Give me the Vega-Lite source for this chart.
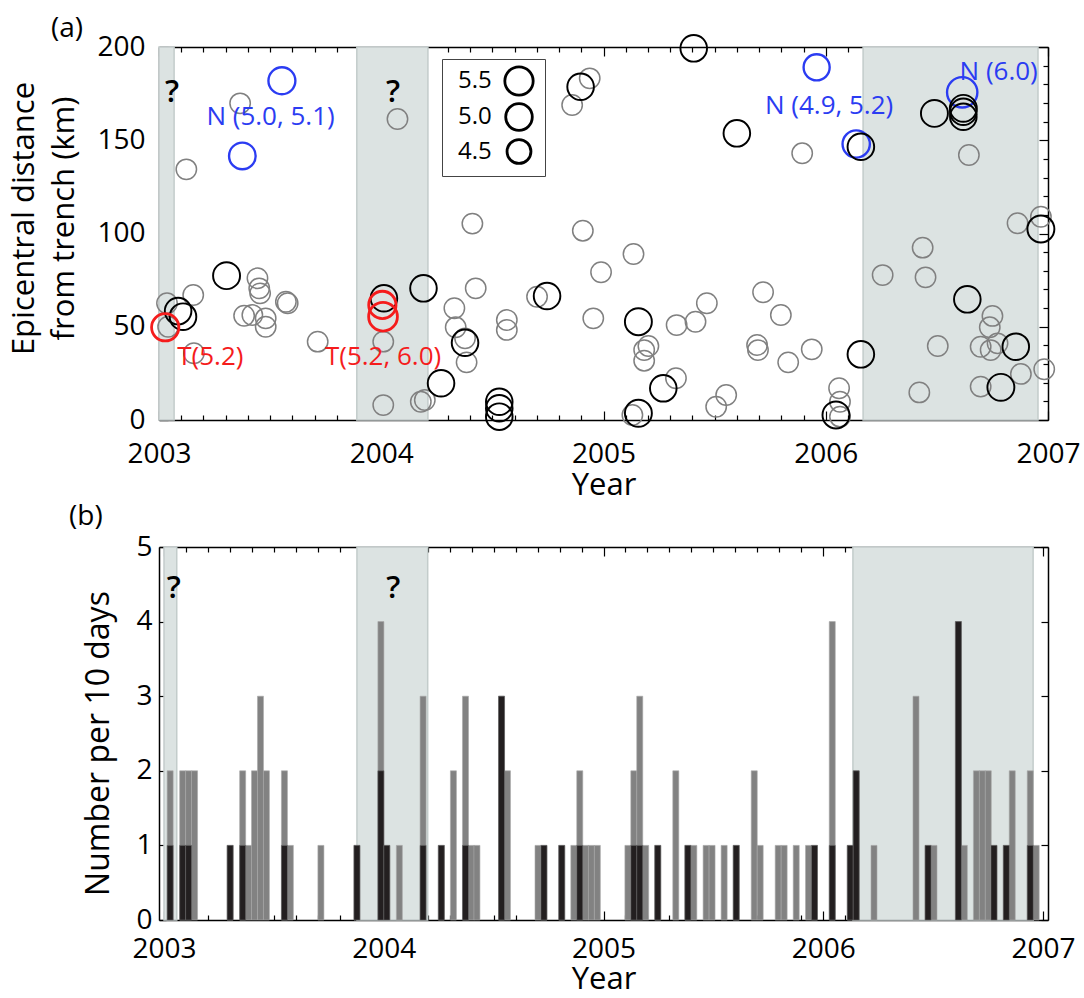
{
  "$schema": "https://vega.github.io/schema/vega-lite/v6.json",
  "background": "white",
  "padding": {"left": 8, "top": 15, "right": 5, "bottom": 5},
  "config": {
    "font": "Open Sans",
    "view": {"stroke": null},
    "axis": {"grid": false, "domainColor": "#000", "domainWidth": 1.5, "tickColor": "#000", "tickWidth": 1.2, "labelFontSize": 28, "labelColor": "#000", "titleFontSize": 31, "titleFontWeight": "normal", "titleColor": "#000", "labelFont": "Open Sans", "titleFont": "Open Sans", "labelOverlap": false, "labelBound": false, "labelFlush": false},
    "title": {"fontSize": 28, "fontWeight": "normal", "anchor": "start", "frame": "group", "font": "Open Sans", "color": "#000"}
  },
  "datasets": {
    "bars": [
      {"year": 2003.028, "total": 2, "big": 1},
      {"year": 2003.085, "total": 2, "big": 1},
      {"year": 2003.112, "total": 2, "big": 1},
      {"year": 2003.139, "total": 2, "big": 0},
      {"year": 2003.301, "total": 1, "big": 1},
      {"year": 2003.358, "total": 2, "big": 1},
      {"year": 2003.385, "total": 1, "big": 0},
      {"year": 2003.412, "total": 2, "big": 0},
      {"year": 2003.439, "total": 3, "big": 0},
      {"year": 2003.466, "total": 2, "big": 0},
      {"year": 2003.548, "total": 2, "big": 1},
      {"year": 2003.575, "total": 1, "big": 0},
      {"year": 2003.714, "total": 1, "big": 0},
      {"year": 2003.878, "total": 1, "big": 1},
      {"year": 2003.987, "total": 4, "big": 2},
      {"year": 2004.014, "total": 1, "big": 1},
      {"year": 2004.071, "total": 1, "big": 0},
      {"year": 2004.179, "total": 3, "big": 1},
      {"year": 2004.262, "total": 1, "big": 1},
      {"year": 2004.317, "total": 2, "big": 0},
      {"year": 2004.372, "total": 3, "big": 1},
      {"year": 2004.398, "total": 1, "big": 0},
      {"year": 2004.424, "total": 1, "big": 0},
      {"year": 2004.536, "total": 3, "big": 3},
      {"year": 2004.563, "total": 2, "big": 0},
      {"year": 2004.702, "total": 1, "big": 0},
      {"year": 2004.729, "total": 1, "big": 1},
      {"year": 2004.810, "total": 1, "big": 1},
      {"year": 2004.865, "total": 1, "big": 0},
      {"year": 2004.892, "total": 2, "big": 1},
      {"year": 2004.919, "total": 1, "big": 0},
      {"year": 2004.945, "total": 1, "big": 0},
      {"year": 2004.972, "total": 1, "big": 0},
      {"year": 2005.111, "total": 1, "big": 0},
      {"year": 2005.138, "total": 2, "big": 1},
      {"year": 2005.165, "total": 3, "big": 1},
      {"year": 2005.192, "total": 1, "big": 0},
      {"year": 2005.247, "total": 1, "big": 1},
      {"year": 2005.329, "total": 2, "big": 0},
      {"year": 2005.384, "total": 1, "big": 1},
      {"year": 2005.411, "total": 1, "big": 0},
      {"year": 2005.467, "total": 1, "big": 0},
      {"year": 2005.494, "total": 1, "big": 0},
      {"year": 2005.549, "total": 1, "big": 0},
      {"year": 2005.604, "total": 1, "big": 1},
      {"year": 2005.686, "total": 2, "big": 0},
      {"year": 2005.713, "total": 1, "big": 0},
      {"year": 2005.795, "total": 1, "big": 0},
      {"year": 2005.822, "total": 1, "big": 0},
      {"year": 2005.877, "total": 1, "big": 0},
      {"year": 2005.933, "total": 1, "big": 0},
      {"year": 2005.960, "total": 1, "big": 1},
      {"year": 2006.041, "total": 4, "big": 1},
      {"year": 2006.123, "total": 1, "big": 1},
      {"year": 2006.150, "total": 2, "big": 2},
      {"year": 2006.231, "total": 1, "big": 0},
      {"year": 2006.422, "total": 3, "big": 0},
      {"year": 2006.477, "total": 1, "big": 1},
      {"year": 2006.504, "total": 1, "big": 0},
      {"year": 2006.615, "total": 4, "big": 4},
      {"year": 2006.642, "total": 1, "big": 0},
      {"year": 2006.697, "total": 2, "big": 0},
      {"year": 2006.724, "total": 2, "big": 0},
      {"year": 2006.751, "total": 2, "big": 0},
      {"year": 2006.777, "total": 1, "big": 1},
      {"year": 2006.833, "total": 1, "big": 1},
      {"year": 2006.860, "total": 2, "big": 0},
      {"year": 2006.942, "total": 2, "big": 1},
      {"year": 2006.969, "total": 1, "big": 0}
    ],
    "events": [
      {"year": 2003.365, "km": 169.8, "type": "g", "mag": 4.2},
      {"year": 2003.123, "km": 134.4, "type": "g", "mag": 4.2},
      {"year": 2004.073, "km": 161.4, "type": "g", "mag": 4.2},
      {"year": 2003.443, "km": 76.0, "type": "g", "mag": 4.2},
      {"year": 2003.451, "km": 70.6, "type": "g", "mag": 4.2},
      {"year": 2003.455, "km": 67.9, "type": "g", "mag": 4.2},
      {"year": 2003.571, "km": 63.4, "type": "g", "mag": 4.2},
      {"year": 2003.579, "km": 62.6, "type": "g", "mag": 4.2},
      {"year": 2003.383, "km": 55.9, "type": "g", "mag": 4.2},
      {"year": 2003.420, "km": 56.3, "type": "g", "mag": 4.2},
      {"year": 2003.480, "km": 54.5, "type": "g", "mag": 4.2},
      {"year": 2003.480, "km": 50.0, "type": "g", "mag": 4.2},
      {"year": 2003.036, "km": 62.6, "type": "g", "mag": 4.2},
      {"year": 2003.041, "km": 50.0, "type": "g", "mag": 4.2},
      {"year": 2003.154, "km": 67.0, "type": "g", "mag": 4.2},
      {"year": 2003.157, "km": 35.8, "type": "g", "mag": 4.2},
      {"year": 2003.714, "km": 42.0, "type": "g", "mag": 4.2},
      {"year": 2004.009, "km": 42.0, "type": "g", "mag": 4.2},
      {"year": 2004.009, "km": 8.0, "type": "g", "mag": 4.2},
      {"year": 2004.178, "km": 9.8, "type": "g", "mag": 4.2},
      {"year": 2004.196, "km": 10.7, "type": "g", "mag": 4.2},
      {"year": 2004.329, "km": 59.9, "type": "g", "mag": 4.2},
      {"year": 2004.335, "km": 49.7, "type": "g", "mag": 4.2},
      {"year": 2004.377, "km": 43.8, "type": "g", "mag": 4.2},
      {"year": 2004.384, "km": 30.9, "type": "g", "mag": 4.2},
      {"year": 2004.410, "km": 105.3, "type": "g", "mag": 4.2},
      {"year": 2004.425, "km": 70.6, "type": "g", "mag": 4.2},
      {"year": 2004.938, "km": 183.2, "type": "g", "mag": 4.2},
      {"year": 2004.859, "km": 168.9, "type": "g", "mag": 4.2},
      {"year": 2005.894, "km": 143.0, "type": "g", "mag": 4.2},
      {"year": 2004.907, "km": 101.5, "type": "g", "mag": 4.2},
      {"year": 2005.135, "km": 89.0, "type": "g", "mag": 4.2},
      {"year": 2004.989, "km": 79.2, "type": "g", "mag": 4.2},
      {"year": 2004.701, "km": 66.1, "type": "g", "mag": 4.2},
      {"year": 2004.565, "km": 53.6, "type": "g", "mag": 4.2},
      {"year": 2004.565, "km": 48.3, "type": "g", "mag": 4.2},
      {"year": 2004.954, "km": 54.5, "type": "g", "mag": 4.2},
      {"year": 2005.465, "km": 62.6, "type": "g", "mag": 4.2},
      {"year": 2005.329, "km": 50.9, "type": "g", "mag": 4.2},
      {"year": 2005.414, "km": 52.7, "type": "g", "mag": 4.2},
      {"year": 2005.718, "km": 68.5, "type": "g", "mag": 4.2},
      {"year": 2005.798, "km": 56.3, "type": "g", "mag": 4.2},
      {"year": 2005.691, "km": 40.2, "type": "g", "mag": 4.2},
      {"year": 2005.695, "km": 37.5, "type": "g", "mag": 4.2},
      {"year": 2005.831, "km": 30.9, "type": "g", "mag": 4.2},
      {"year": 2005.937, "km": 37.9, "type": "g", "mag": 4.2},
      {"year": 2005.202, "km": 39.7, "type": "g", "mag": 4.2},
      {"year": 2005.183, "km": 37.5, "type": "g", "mag": 4.2},
      {"year": 2005.183, "km": 31.8, "type": "g", "mag": 4.2},
      {"year": 2005.326, "km": 22.4, "type": "g", "mag": 4.2},
      {"year": 2005.552, "km": 13.4, "type": "g", "mag": 4.2},
      {"year": 2005.507, "km": 7.1, "type": "g", "mag": 4.2},
      {"year": 2005.130, "km": 2.7, "type": "g", "mag": 4.2},
      {"year": 2006.060, "km": 17.0, "type": "g", "mag": 4.2},
      {"year": 2006.064, "km": 9.8, "type": "g", "mag": 4.2},
      {"year": 2006.064, "km": 1.8, "type": "g", "mag": 4.2},
      {"year": 2006.644, "km": 142.1, "type": "g", "mag": 4.2},
      {"year": 2006.863, "km": 105.5, "type": "g", "mag": 4.2},
      {"year": 2006.968, "km": 109.0, "type": "g", "mag": 4.2},
      {"year": 2006.436, "km": 92.4, "type": "g", "mag": 4.2},
      {"year": 2006.256, "km": 77.7, "type": "g", "mag": 4.2},
      {"year": 2006.449, "km": 76.5, "type": "g", "mag": 4.2},
      {"year": 2006.750, "km": 55.8, "type": "g", "mag": 4.2},
      {"year": 2006.738, "km": 49.7, "type": "g", "mag": 4.2},
      {"year": 2006.504, "km": 39.7, "type": "g", "mag": 4.2},
      {"year": 2006.697, "km": 39.3, "type": "g", "mag": 4.2},
      {"year": 2006.742, "km": 37.5, "type": "g", "mag": 4.2},
      {"year": 2006.773, "km": 41.1, "type": "g", "mag": 4.2},
      {"year": 2006.983, "km": 27.2, "type": "g", "mag": 4.2},
      {"year": 2006.878, "km": 24.7, "type": "g", "mag": 4.2},
      {"year": 2006.421, "km": 14.8, "type": "g", "mag": 4.2},
      {"year": 2006.697, "km": 17.9, "type": "g", "mag": 4.2},
      {"year": 2003.553, "km": 181.9, "type": "b", "mag": 5.1},
      {"year": 2003.375, "km": 141.6, "type": "b", "mag": 5.0},
      {"year": 2005.959, "km": 189.1, "type": "b", "mag": 4.9},
      {"year": 2006.137, "km": 148.0, "type": "b", "mag": 5.2},
      {"year": 2006.614, "km": 175.7, "type": "b", "mag": 6.0},
      {"year": 2003.304, "km": 77.4, "type": "k", "mag": 5.1},
      {"year": 2003.086, "km": 58.4, "type": "k", "mag": 5.0},
      {"year": 2003.108, "km": 55.4, "type": "k", "mag": 5.0},
      {"year": 2004.012, "km": 65.3, "type": "k", "mag": 5.0},
      {"year": 2004.190, "km": 70.6, "type": "k", "mag": 5.0},
      {"year": 2004.269, "km": 19.7, "type": "k", "mag": 5.0},
      {"year": 2004.377, "km": 41.4, "type": "k", "mag": 5.0},
      {"year": 2005.406, "km": 199.3, "type": "k", "mag": 5.0},
      {"year": 2004.897, "km": 178.7, "type": "k", "mag": 5.0},
      {"year": 2005.600, "km": 153.7, "type": "k", "mag": 5.0},
      {"year": 2006.158, "km": 146.5, "type": "k", "mag": 5.0},
      {"year": 2004.746, "km": 66.5, "type": "k", "mag": 5.0},
      {"year": 2005.157, "km": 52.7, "type": "k", "mag": 5.1},
      {"year": 2004.531, "km": 9.8, "type": "k", "mag": 5.0},
      {"year": 2004.531, "km": 6.3, "type": "k", "mag": 5.0},
      {"year": 2004.531, "km": 1.8, "type": "k", "mag": 5.0},
      {"year": 2005.269, "km": 17.0, "type": "k", "mag": 5.0},
      {"year": 2005.157, "km": 3.6, "type": "k", "mag": 5.1},
      {"year": 2006.046, "km": 2.7, "type": "k", "mag": 5.1},
      {"year": 2006.158, "km": 35.2, "type": "k", "mag": 5.0},
      {"year": 2006.489, "km": 164.4, "type": "k", "mag": 5.1},
      {"year": 2006.619, "km": 167.1, "type": "k", "mag": 5.1},
      {"year": 2006.619, "km": 165.3, "type": "k", "mag": 5.0},
      {"year": 2006.619, "km": 162.6, "type": "k", "mag": 5.0},
      {"year": 2006.968, "km": 102.4, "type": "k", "mag": 5.1},
      {"year": 2006.637, "km": 64.7, "type": "k", "mag": 5.0},
      {"year": 2006.855, "km": 39.3, "type": "k", "mag": 5.0},
      {"year": 2006.788, "km": 17.5, "type": "k", "mag": 5.1},
      {"year": 2003.028, "km": 49.7, "type": "r", "mag": 5.2},
      {"year": 2004.005, "km": 61.7, "type": "r", "mag": 5.2},
      {"year": 2004.008, "km": 55.4, "type": "r", "mag": 5.6}
    ]
  },
  "spacing": 3,
  "vconcat": [
    {
      "width": 889,
      "height": 373,
      "title": {"text": "(a)", "dx": -108, "offset": -12},
      "layer": [
        {
          "data": {"values": [
            {"start": 2003.0, "end": 2003.068},
            {"start": 2003.89, "end": 2004.21},
            {"start": 2006.168, "end": 2006.955}
          ]},
          "mark": {"type": "rect", "fill": "#dce3e2", "stroke": "#c3cccb", "strokeWidth": 1.5},
          "encoding": {
            "x": {"field": "start", "type": "quantitative", "scale": {"domain": [2003, 2007], "nice": false, "zero": false}, "axis": null},
            "x2": {"field": "end"}
          }
        },
        {
          "data": {"name": "events"},
          "mark": {"type": "point", "filled": false, "opacity": 1},
          "encoding": {
            "x": {"field": "year", "type": "quantitative", "scale": {"domain": [2003, 2007], "nice": false, "zero": false},
              "axis": {"orient": "bottom", "title": "Year", "tickCount": 40,
                "labelExpr": "abs(datum.value - round(datum.value)) < 0.001 ? format(datum.value, 'd') : ''",
                "tickSize": {"condition": {"test": "abs(datum.value - round(datum.value)) < 0.001", "value": -9}, "value": -5},
                "labelPadding": 29, "titlePadding": -2}},
            "y": {"field": "km", "type": "quantitative", "scale": {"domain": [0, 200], "nice": false},
              "axis": {"orient": "left", "title": ["Epicentral distance", "from trench (km)"], "titleLineHeight": 40, "titleY": 171, "tickCount": 20,
                "labelExpr": "abs(datum.value / 50 - round(datum.value / 50)) < 0.001 ? format(datum.value, 'd') : ''",
                "tickSize": {"condition": {"test": "abs(datum.value / 50 - round(datum.value / 50)) < 0.001", "value": -9}, "value": -5},
                "labelPadding": 23, "titlePadding": 16}},
            "color": {"field": "type", "type": "nominal", "scale": {"domain": ["g", "k", "b", "r"], "range": ["#808080", "#000000", "#2b3cf2", "#f51c1c"]}, "legend": null},
            "strokeWidth": {"field": "type", "type": "nominal", "scale": {"domain": ["g", "k", "b", "r"], "range": [1.5, 2.8, 2.2, 2.2]}, "legend": null},
            "size": {"field": "mag", "type": "quantitative", "scale": {"domain": [4.2, 4.5, 5.0, 5.5, 6.0], "range": [415, 572, 707, 804, 920]},
              "legend": {"orient": "none", "legendX": 283, "legendY": 12, "values": [5.5, 5.0, 4.5], "title": null, "format": ".1f",
                "labelFontSize": 24, "labelFont": "Open Sans", "labelColor": "#000", "symbolType": "circle",
                "symbolStrokeColor": "#000", "symbolStrokeWidth": 2.8, "symbolFillColor": "transparent",
                "strokeColor": "#444", "fillColor": "white", "padding": 6, "rowPadding": -3,
                "labelAlign": "left", "labelOffset": -77, "symbolOffset": 55}}
          }
        },
        {
          "data": {"values": [
            {"year": 2003.502, "km": 162.5, "label": "N (5.0, 5.1)", "type": "b"},
            {"year": 2003.231, "km": 33.8, "label": "T(5.2)", "type": "r"},
            {"year": 2004.008, "km": 33.8, "label": "T(5.2, 6.0)", "type": "r"},
            {"year": 2006.015, "km": 168.4, "label": "N (4.9, 5.2)", "type": "b"},
            {"year": 2006.778, "km": 186.6, "label": "N (6.0)", "type": "b"}
          ]},
          "mark": {"type": "text", "fontSize": 26, "align": "center", "baseline": "middle", "font": "Open Sans"},
          "encoding": {
            "x": {"field": "year", "type": "quantitative",
              "axis": {"orient": "top", "title": null, "labels": false, "tickCount": 40,
                "tickSize": {"condition": {"test": "abs(datum.value - round(datum.value)) < 0.001", "value": -9}, "value": -5}}},
            "y": {"field": "km", "type": "quantitative",
              "axis": {"orient": "right", "title": null, "labels": false, "tickCount": 20,
                "tickSize": {"condition": {"test": "abs(datum.value / 50 - round(datum.value / 50)) < 0.001", "value": -9}, "value": -5}}},
            "text": {"field": "label"},
            "color": {"field": "type", "type": "nominal", "legend": null}
          }
        },
        {
          "data": {"values": [
            {"year": 2003.059, "km": 175.3, "label": "?"},
            {"year": 2004.053, "km": 175.3, "label": "?"}
          ]},
          "mark": {"type": "text", "fontSize": 31, "fontWeight": 600, "align": "center", "baseline": "middle", "font": "Open Sans", "color": "#000"},
          "encoding": {
            "x": {"field": "year", "type": "quantitative", "axis": null},
            "y": {"field": "km", "type": "quantitative", "axis": null},
            "text": {"field": "label"}
          }
        }
      ],
      "resolve": {"axis": {"x": "independent", "y": "independent"}}
    },
    {
      "width": 889,
      "height": 373,
      "title": {"text": "(b)", "dx": -90, "offset": 2},
      "layer": [
        {
          "data": {"values": [
            {"start": 2003.0, "end": 2003.058},
            {"start": 2003.878, "end": 2004.2},
            {"start": 2006.135, "end": 2006.955}
          ]},
          "mark": {"type": "rect", "fill": "#dce3e2", "stroke": "#c3cccb", "strokeWidth": 1.5},
          "encoding": {
            "x": {"field": "start", "type": "quantitative", "scale": {"domain": [2003, 2007], "nice": false, "zero": false}, "axis": null},
            "x2": {"field": "end"}
          }
        },
        {
          "data": {"name": "bars"},
          "mark": {"type": "bar", "orient": "vertical", "width": 6, "color": "#828282", "stroke": "#a8a8a8", "strokeWidth": 0.6},
          "encoding": {
            "x": {"field": "year", "type": "quantitative", "scale": {"domain": [2003, 2007], "nice": false, "zero": false},
              "axis": {"orient": "bottom", "title": "Year", "tickCount": 40,
                "labelExpr": "abs(datum.value - round(datum.value)) < 0.001 ? format(datum.value, 'd') : ''",
                "tickSize": {"condition": {"test": "abs(datum.value - round(datum.value)) < 0.001", "value": -9}, "value": -5},
                "labelPadding": 24, "titlePadding": -3}},
            "y": {"field": "total", "type": "quantitative", "scale": {"domain": [0, 5], "nice": false},
              "axis": {"orient": "left", "title": "Number per 10 days", "titleFontSize": 32, "titleY": 196, "tickCount": 5, "format": "d", "tickSize": -7,
                "labelPadding": 14, "titlePadding": 20}}
          }
        },
        {
          "data": {"name": "bars"},
          "transform": [{"filter": "datum.big > 0"}],
          "mark": {"type": "bar", "orient": "vertical", "width": 6, "color": "#231f20", "stroke": "#6a6a6a", "strokeWidth": 0.6},
          "encoding": {
            "x": {"field": "year", "type": "quantitative",
              "axis": {"orient": "top", "title": null, "labels": false, "tickCount": 40,
                "tickSize": {"condition": {"test": "abs(datum.value - round(datum.value)) < 0.001", "value": -9}, "value": -5}}},
            "y": {"field": "big", "type": "quantitative",
              "axis": {"orient": "right", "title": null, "labels": false, "tickCount": 5, "tickSize": -7}}
          }
        },
        {
          "data": {"values": [
            {"year": 2003.045, "n": 4.44, "label": "?"},
            {"year": 2004.044, "n": 4.44, "label": "?"}
          ]},
          "mark": {"type": "text", "fontSize": 31, "fontWeight": 600, "align": "center", "baseline": "middle", "font": "Open Sans", "color": "#000"},
          "encoding": {
            "x": {"field": "year", "type": "quantitative", "axis": null},
            "y": {"field": "n", "type": "quantitative", "axis": null},
            "text": {"field": "label"}
          }
        }
      ],
      "resolve": {"axis": {"x": "independent", "y": "independent"}}
    }
  ]
}
